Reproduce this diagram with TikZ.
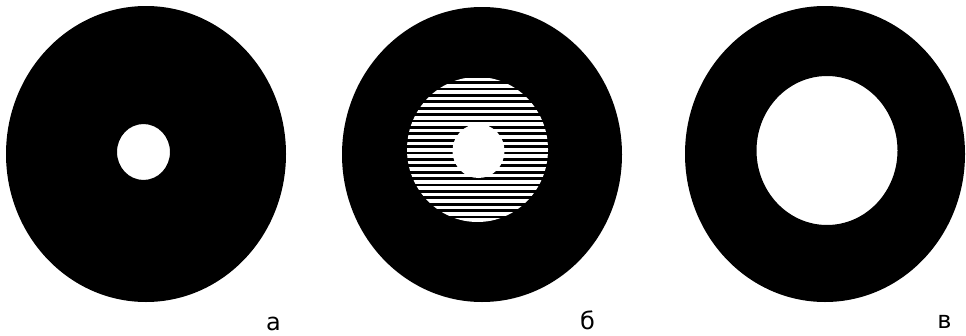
\documentclass[tikz,border=0pt]{standalone}
\usepackage{fontspec}
\setmainfont{DejaVu Sans}
\begin{document}
\begin{tikzpicture}[x=1pt,y=-1pt,
  disk/.style={fill=black},
  hole/.style={fill=white},
  lbl/.style={font=\fontsize{24}{26}\selectfont, anchor=base, inner sep=0pt}]
\useasboundingbox (0,0) rectangle (966,335);
% a
\fill[disk,even odd rule] (146,154) ellipse [x radius=140, y radius=148]
  (143.5,152) ellipse [x radius=26.5, y radius=28];
% b
\fill[disk] (482,154.5) ellipse [x radius=140, y radius=147.5];
\begin{scope}
  \clip (477.5,149.5) ellipse [x radius=70.5, y radius=72.5];
  \foreach \k in {0,...,22} {
    \fill[white] (400,{77.6+6.4*\k}) rectangle (560,{81.2+6.4*\k});
  }
\end{scope}
\fill[hole] (478.5,151) ellipse [x radius=26, y radius=27];
% c
\fill[disk,even odd rule] (825,154) ellipse [x radius=140, y radius=148]
  (827,150.5) ellipse [x radius=70.5, y radius=74.5];
\node[lbl] (la) at (273.5,330) {а};
\node[lbl] (lb) at (587.5,329.5) {б};
\node[lbl] (lc) at (944.5,328.5) {в};
\end{tikzpicture}
\end{document}
